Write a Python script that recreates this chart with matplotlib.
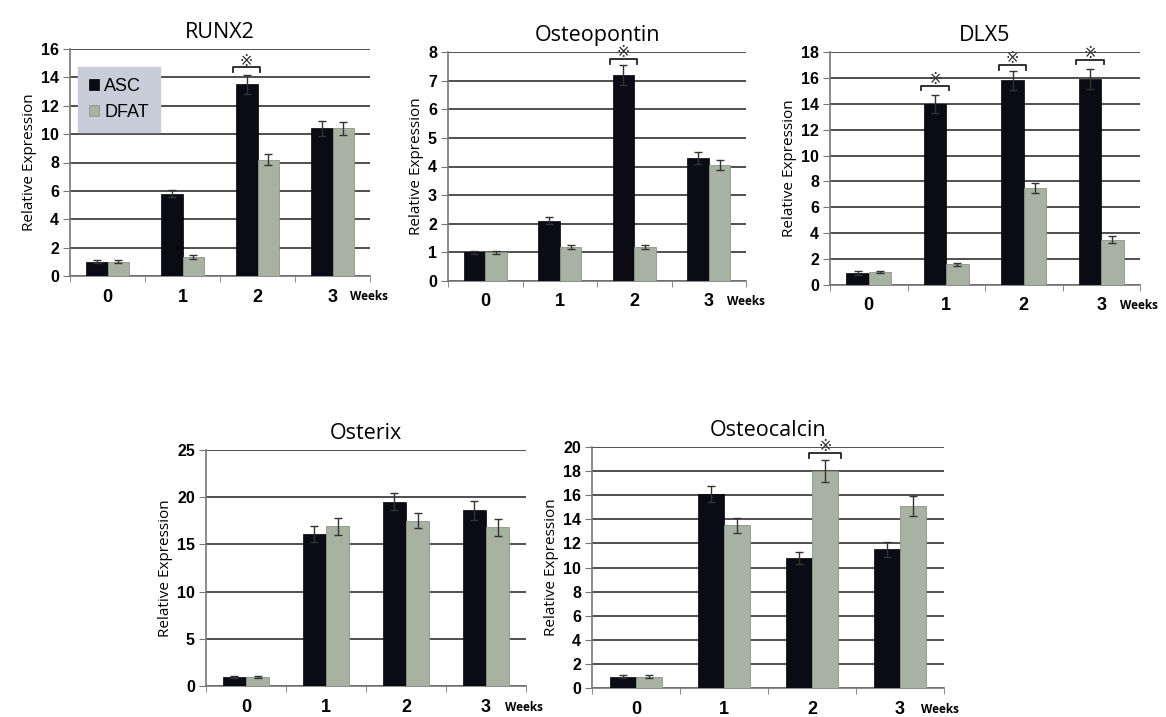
import matplotlib
matplotlib.use('Agg')
from matplotlib import pyplot as plt
import numpy as np

weeks = ['0', '1', '2', '3']

# valores (media y error) para cada gen
runx2_asc = [1.0, 5.8, 13.5, 10.4]
runx2_asc_err = [0.1, 0.25, 0.7, 0.5]
runx2_dfat = [1.0, 1.35, 8.2, 10.4]
runx2_dfat_err = [0.1, 0.12, 0.4, 0.45]

opn_asc = [1.0, 2.1, 7.2, 4.3]
opn_asc_err = [0.05, 0.12, 0.35, 0.22]
opn_dfat = [1.0, 1.2, 1.2, 4.05]
opn_dfat_err = [0.04, 0.07, 0.07, 0.18]

dlx5_asc = [0.95, 14.0, 15.8, 15.9]
dlx5_asc_err = [0.15, 0.7, 0.7, 0.75]
dlx5_dfat = [1.0, 1.6, 7.5, 3.5]
dlx5_dfat_err = [0.1, 0.1, 0.4, 0.25]

osx_asc = [1.0, 16.1, 19.5, 18.6]
osx_asc_err = [0.1, 0.8, 0.9, 1.0]
osx_dfat = [1.0, 16.9, 17.5, 16.8]
osx_dfat_err = [0.1, 0.9, 0.8, 0.9]

ocn_asc = [0.95, 16.1, 10.8, 11.5]
ocn_asc_err = [0.1, 0.7, 0.5, 0.6]
ocn_dfat = [0.95, 13.5, 18.0, 15.1]
ocn_dfat_err = [0.1, 0.6, 0.9, 0.8]

# marcas de significancia: (semana, serie sobre la que va, altura del corchete)
runx2_sig = [(2, 0, 14.7)]
opn_sig = [(2, 0, 7.75)]
dlx5_sig = [(1, 0, 15.4), (2, 0, 17.0), (3, 0, 17.4)]
ocn_sig = [(2, 1, 19.5)]

ASC_COLOR = '#0b0b16'
DFAT_COLOR = '#a8b2a2'
GRID = '#4f4f4f'
W = 0.29


def panel(rect, title, asc, asc_err, dfat, dfat_err, ymax, ystep, sig, legend=False):
    ax = fig.add_axes(rect)
    x = np.arange(len(weeks))
    ax.bar(x - W / 2, asc, W, color=ASC_COLOR, edgecolor='#000000', linewidth=0.5,
           yerr=asc_err, capsize=3, error_kw=dict(ecolor='#333333', elinewidth=1), label='ASC', zorder=3)
    ax.bar(x + W / 2, dfat, W, color=DFAT_COLOR, edgecolor='#8d9688', linewidth=0.6,
           yerr=dfat_err, capsize=3, error_kw=dict(ecolor='#333333', elinewidth=1), label='DFAT', zorder=3)

    ax.set_xlim(-0.5, len(weeks) - 0.5)
    ax.set_ylim(0, ymax)
    ax.set_yticks(np.arange(0, ymax + 0.01, ystep))
    ax.yaxis.grid(True, color=GRID, linewidth=1.4, zorder=0)
    ax.set_axisbelow(True)
    for s in ['top', 'right']:
        ax.spines[s].set_visible(False)
    for s in ['left', 'bottom']:
        ax.spines[s].set_color('#777777')
        ax.spines[s].set_linewidth(1.2)

    ax.set_xticks(x)
    ax.set_xticklabels(weeks, fontsize=13, fontweight='bold', family='Liberation Sans')
    ax.set_xticks(np.arange(-0.5, len(weeks)), minor=True)
    ax.tick_params(axis='x', which='major', length=0, pad=9)
    ax.tick_params(axis='x', which='minor', length=4, color='#777777', direction='out')
    ax.tick_params(axis='y', length=5, color='#777777', pad=3)
    for lbl in ax.get_yticklabels():
        lbl.set_fontsize(11.5)
        lbl.set_fontweight('bold')
        lbl.set_family('Liberation Sans')

    ax.set_ylabel('Relative Expression', fontsize=11, family='Open Sans', labelpad=3)
    ax.set_title(title, fontsize=15.5, family='Open Sans', pad=8)
    # "Weeks" a la derecha de la ultima etiqueta
    ax.text(3.24, -0.09, 'Weeks', transform=ax.get_xaxis_transform(), ha='left', va='center',
            fontsize=8.5, fontweight='bold', family='Open Sans')

    # corchete y asterisco de significancia
    for wk, serie, h in sig:
        cx = wk - W / 2 if serie == 0 else wk + W / 2
        half = W * 0.62
        d = ymax * 0.02
        ax.plot([cx - half, cx - half, cx + half, cx + half], [h - d, h, h, h - d],
                color='#222222', linewidth=1.3, clip_on=False, zorder=4)
        ax.text(cx, h - ymax * 0.005, '※', ha='center', va='bottom', fontsize=11.5,
                color='#333333', family='DejaVu Sans', clip_on=False)

    if legend:
        ax.legend(loc='upper left', bbox_to_anchor=(0.027, 0.92), frameon=True,
                  facecolor='#c8cdd9', edgecolor='#c8cdd9', framealpha=1, fancybox=False,
                  prop=dict(family='Liberation Sans', size=13), handlelength=0.55,
                  handleheight=0.55, handletextpad=0.3, borderpad=0.6, labelspacing=0.5,
                  borderaxespad=0)
    return ax


fig = plt.figure(figsize=(11.66, 7.17), dpi=100)


def rect(x0, y0, x1, y1):
    return [x0 / 1166, 1 - y1 / 717, (x1 - x0) / 1166, (y1 - y0) / 717]


panel(rect(70, 49, 370, 276), 'RUNX2', runx2_asc, runx2_asc_err, runx2_dfat, runx2_dfat_err,
      16, 2, runx2_sig, legend=True)
panel(rect(448, 52, 746, 281), 'Osteopontin', opn_asc, opn_asc_err, opn_dfat, opn_dfat_err,
      8, 1, opn_sig)
panel(rect(830, 52, 1140, 285), 'DLX5', dlx5_asc, dlx5_asc_err, dlx5_dfat, dlx5_dfat_err,
      18, 2, dlx5_sig)
panel(rect(206, 450, 526, 686), 'Osterix', osx_asc, osx_asc_err, osx_dfat, osx_dfat_err,
      25, 5, [])
panel(rect(592, 447, 944, 688), 'Osteocalcin', ocn_asc, ocn_asc_err, ocn_dfat, ocn_dfat_err,
      20, 2, ocn_sig)

plt.savefig('out.png', dpi=100)
